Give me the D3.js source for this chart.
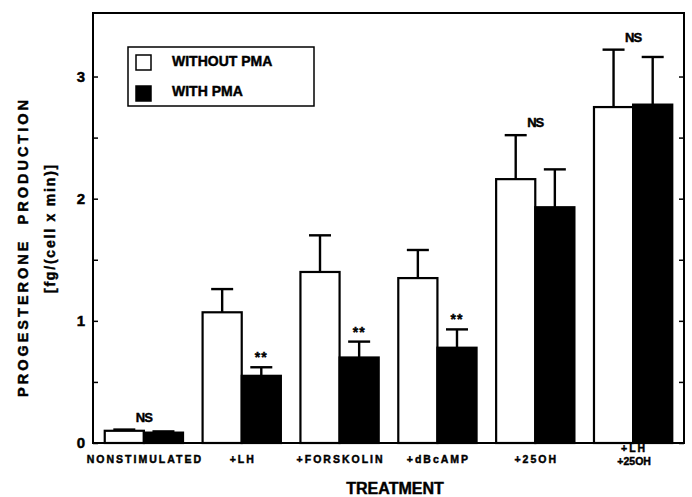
<!DOCTYPE html>
<html>
<head>
<meta charset="utf-8">
<script src="https://cdn.jsdelivr.net/npm/d3@7"></script>
<style>
  body { margin: 0; background: #fff; }
  svg text { font-family: "Liberation Sans", Arial, sans-serif; font-weight: bold; fill: #000;
             stroke: #000; stroke-width: 0.45px; }
</style>
</head>
<body>
<div id="chart"></div>
<script>
// data
const categories = ["NONSTIMULATED", "+LH", "+FORSKOLIN", "+dBcAMP", "+25OH", "+LH\n+25OH"];
const withoutPMA = [0.10, 1.07, 1.40, 1.35, 2.16, 2.75];
const withoutPMAErr = [0.01, 0.19, 0.30, 0.23, 0.36, 0.47];
const withPMA = [0.085, 0.55, 0.70, 0.78, 1.93, 2.77];
const withPMAErr = [0.01, 0.07, 0.13, 0.15, 0.31, 0.39];
const significance = ["NS", "**", "**", "**", "NS", "NS"];
const seriesNames = ["WITHOUT PMA", "WITH PMA"];
const yTicks = [0, 0.5, 1, 1.5, 2, 2.5, 3];

const W = 692, H = 497;
const margin = { top: 13, right: 8, bottom: 54, left: 93 };
const width = W - margin.left - margin.right,
      height = H - margin.top - margin.bottom;

const svg = d3.select("#chart").append("svg")
    .attr("width", W)
    .attr("height", H);

const g = svg.append("g")
    .attr("transform", "translate(" + margin.left + "," + margin.top + ")");

// scales
const x = d3.scaleBand()
    .domain(categories)
    .range([0, width])
    .paddingInner(0.2)
    .paddingOuter(0.12);

const xSub = d3.scaleBand()
    .domain(seriesNames)
    .range([0, x.bandwidth()]);

const y = d3.scaleLinear()
    .domain([0, 3.52])
    .range([height, 0]);

const fills = { "WITHOUT PMA": "#fff", "WITH PMA": "#000" };

// rows for each bar
const rows = [];
categories.forEach((c, i) => {
    rows.push({ cat: c, series: "WITHOUT PMA", value: withoutPMA[i], err: withoutPMAErr[i] });
    rows.push({ cat: c, series: "WITH PMA", value: withPMA[i], err: withPMAErr[i] });
});

// error bars (upward only)
const errG = g.append("g").attr("class", "errors");
rows.forEach(d => {
    const cx = x(d.cat) + xSub(d.series) + xSub.bandwidth() / 2;
    errG.append("line")
        .attr("x1", cx).attr("x2", cx)
        .attr("y1", y(d.value)).attr("y2", y(d.value + d.err))
        .attr("stroke", "#000").attr("stroke-width", 2.4);
    errG.append("line")
        .attr("x1", cx - 11).attr("x2", cx + 11)
        .attr("y1", y(d.value + d.err)).attr("y2", y(d.value + d.err))
        .attr("stroke", "#000").attr("stroke-width", 2.4);
});

// bars
g.selectAll(".bar")
    .data(rows)
    .enter().append("rect")
    .attr("class", "bar")
    .attr("x", d => x(d.cat) + xSub(d.series))
    .attr("y", d => y(d.value))
    .attr("width", xSub.bandwidth())
    .attr("height", d => height - y(d.value))
    .attr("fill", d => fills[d.series])
    .attr("stroke", "#000")
    .attr("stroke-width", 2.2);

// significance marks
categories.forEach((c, i) => {
    const s = significance[i];
    let cx, top;
    if (s === "NS") {
        cx = x(c) + x.bandwidth() / 2;
        top = Math.max(withoutPMA[i] + withoutPMAErr[i], withPMA[i] + withPMAErr[i]);
    } else {
        cx = x(c) + xSub("WITH PMA") + xSub.bandwidth() / 2;
        top = withPMA[i] + withPMAErr[i];
    }
    g.append("text")
        .attr("x", cx)
        .attr("y", y(top) - (s === "NS" ? 8 : 5))
        .attr("text-anchor", "middle")
        .style("font-size", s === "NS" ? "13px" : "14px")
        .style("letter-spacing", s === "NS" ? "-1px" : "1px")
        .text(s);
});

// frame
g.append("rect")
    .attr("width", width).attr("height", height)
    .attr("fill", "none").attr("stroke", "#000").attr("stroke-width", 2);

// axes
const yAxis = d3.axisLeft(y)
    .tickValues(yTicks)
    .tickSizeInner(-5)
    .tickSizeOuter(0)
    .tickPadding(8)
    .tickFormat(d => Number.isInteger(d) ? d : "");

g.append("g").attr("class", "y-axis").call(yAxis)
    .call(a => a.select(".domain").remove())
    .call(a => a.selectAll("line").attr("stroke-width", 1.5))
    .selectAll("text").style("font-size", "15px").attr("font-family", null);

g.append("g").attr("class", "y-axis-right")
    .attr("transform", "translate(" + width + ",0)")
    .call(d3.axisRight(y).tickValues(yTicks).tickSizeInner(-5).tickSizeOuter(0).tickFormat(""))
    .call(a => a.select(".domain").remove())
    .call(a => a.selectAll("line").attr("stroke-width", 1.5));

const xAxis = d3.axisBottom(x).tickSize(0).tickFormat("");
const xg = g.append("g").attr("class", "x-axis")
    .attr("transform", "translate(0," + height + ")")
    .call(xAxis)
    .call(a => a.select(".domain").remove());

xg.selectAll(".tick").each(function (d) {
    const lines = d.split("\n");
    const t = d3.select(this).append("text")
        .attr("text-anchor", "middle")
        .style("font-size", "10.5px")
        .style("letter-spacing", "2px");
    lines.forEach((l, k) => {
        t.append("tspan")
            .attr("x", 1)
            .attr("y", lines.length > 1 ? 9 + k * 13 : 20)
            .style("letter-spacing", lines.length > 1 && k === 1 ? "0px" : "2px")
            .text(l);
    });
});

// axis titles
svg.append("text")
    .attr("x", 395).attr("y", 494)
    .attr("text-anchor", "middle")
    .style("font-size", "16px")
    .text("TREATMENT");

svg.append("text")
    .attr("transform", "translate(28,247) rotate(-90)")
    .attr("text-anchor", "middle")
    .style("font-size", "14.5px")
    .style("letter-spacing", "3px")
    .style("white-space", "pre")
    .text("PROGESTERONE  PRODUCTION");

svg.append("text")
    .attr("transform", "translate(55,228) rotate(-90)")
    .attr("text-anchor", "middle")
    .style("font-size", "14px")
    .style("letter-spacing", "1.8px")
    .style("white-space", "pre")
    .text("[fg/(cell x min)]");

// legend
const legend = svg.append("g").attr("transform", "translate(128,47)");
legend.append("rect")
    .attr("width", 186).attr("height", 59)
    .attr("fill", "#fff").attr("stroke", "#000").attr("stroke-width", 1.5);
seriesNames.forEach((s, i) => {
    legend.append("rect")
        .attr("x", 8).attr("y", 8 + i * 31)
        .attr("width", 15).attr("height", 15)
        .attr("fill", fills[s]).attr("stroke", "#000").attr("stroke-width", 1.5);
    legend.append("text")
        .attr("x", 44).attr("y", 19 + i * 30)
        .style("font-size", "14px")
        .text(s);
});
</script>
</body>
</html>
